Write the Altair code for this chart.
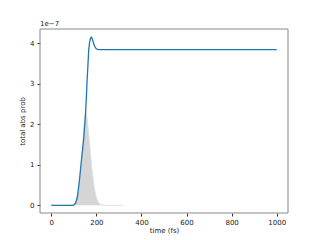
import altair as alt
import pandas as pd

# blue curve: total absorption probability (units of 1e-7)
t_line = [0, 60, 90, 100, 108, 116, 125, 134, 143, 148, 152, 156, 159, 163, 166, 170,
          174, 177, 180, 184, 188, 192, 196, 200, 205, 212, 220, 240, 300, 500, 800, 1000]
p_line = [0, 0, 0, 0.005, 0.05, 0.21, 0.62, 1.12, 1.6, 1.95, 2.27, 2.7, 3.09, 3.5, 3.83, 4.02,
          4.12, 4.15, 4.13, 4.07, 3.99, 3.93, 3.89, 3.86, 3.845, 3.84, 3.84, 3.84, 3.84, 3.84, 3.84, 3.84]

# gray pulse envelope
t_pulse = [0, 80, 90, 100, 110, 120, 130, 135, 140, 145, 150, 155, 160, 165, 170, 180,
           190, 200, 210, 220, 240, 320]
p_pulse = [0, 0, 0.005, 0.03, 0.12, 0.35, 0.8, 1.12, 1.5, 1.9, 2.25, 2.3, 2.1, 1.8, 1.5, 0.9,
           0.45, 0.18, 0.06, 0.015, 0.0, 0]

x_ticks = [0, 200, 400, 600, 800, 1000]
y_ticks = [0, 1, 2, 3, 4]

line_df = pd.DataFrame({"t": t_line, "p": p_line})
pulse_df = pd.DataFrame({"t": t_pulse, "p": p_pulse})

xs = alt.Scale(domain=[-50, 1050], nice=False, zero=False)
ys = alt.Scale(domain=[-0.19, 4.35], nice=False, zero=False)

common = dict(grid=False, domain=False, tickColor="#333", tickSize=3, labelFontSize=7,
              titleFontSize=7, labelColor="#222", titleColor="#222", titleFontWeight="normal",
              labelFont="DejaVu Sans", titleFont="DejaVu Sans", format="d")
xax = alt.Axis(values=x_ticks, title="time (fs)", labelPadding=2, titlePadding=1, **common)
yax = alt.Axis(values=y_ticks, title="total abs prob", labelPadding=3, titlePadding=4, **common)

area = alt.Chart(pulse_df).mark_area(
    color="#d3d3d3", opacity=0.95, line={"color": "#e0e0e0", "strokeWidth": 1}
).encode(
    x=alt.X("t:Q", scale=xs, axis=xax),
    y=alt.Y("p:Q", scale=ys, axis=yax),
)
line = alt.Chart(line_df).mark_line(color="#1f77b4", strokeWidth=1.3).encode(
    x=alt.X("t:Q", scale=xs),
    y=alt.Y("p:Q", scale=ys),
)
frame = alt.Chart(pd.DataFrame({"k": [0]})).mark_rect(
    fill=None, filled=False, stroke="#888", strokeWidth=1
).encode(x=alt.value(0), x2=alt.value(248), y=alt.value(0), y2=alt.value(184))
offset = alt.Chart(pd.DataFrame({"s": ["1e\u22127"]})).mark_text(
    align="left", baseline="bottom", fontSize=7, font="DejaVu Sans", color="#222"
).encode(x=alt.value(0), y=alt.value(-2), text="s:N")

chart = (area + line + frame + offset).properties(
    width=248, height=184,
    autosize=alt.AutoSizeParams(type="none"),
    padding={"left": 32, "top": 21, "right": 24, "bottom": 27},
).configure_view(stroke=None)

chart.save("out.html", embed_options={"renderer": "svg", "actions": False})
